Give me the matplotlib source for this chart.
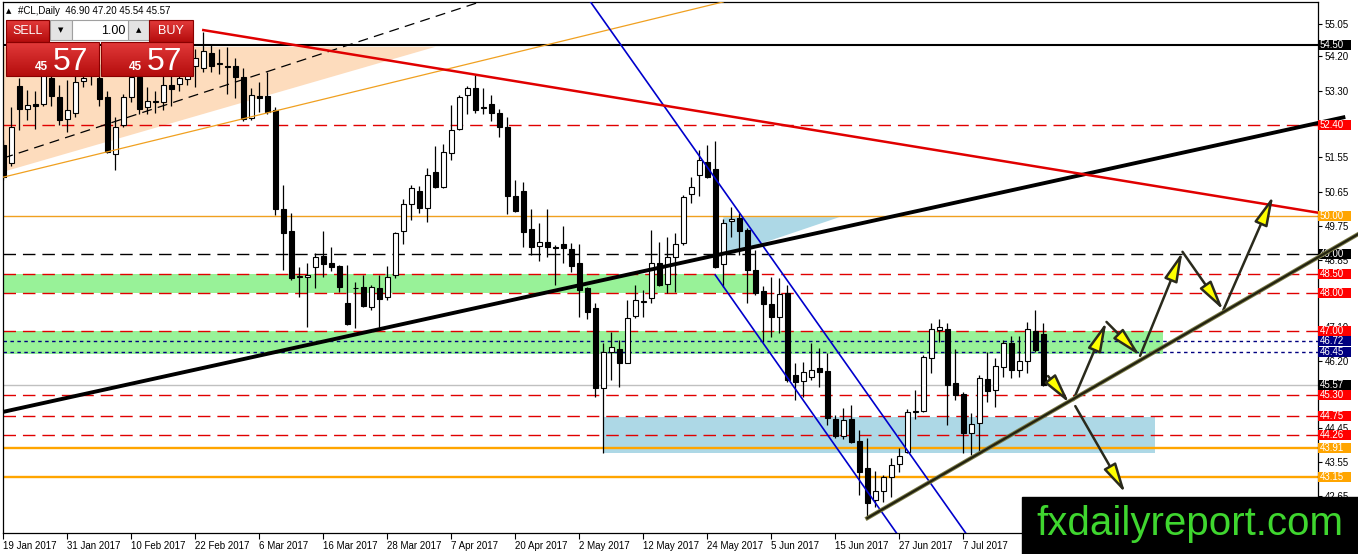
import matplotlib
matplotlib.use('Agg')
import matplotlib.pyplot as plt
from matplotlib.patches import Rectangle, FancyArrowPatch
from matplotlib.colors import LinearSegmentedColormap
import numpy as np

plt.rcParams['font.family'] = ['Liberation Sans', 'DejaVu Sans']

# daily candles, 19 Jan 2017 .. 21 Jul 2017
opens = [51.87, 51.40, 53.42, 52.82, 52.95, 52.95, 53.63, 53.13, 52.56, 52.72,
         53.55, 53.70, 53.63, 53.13, 51.64, 52.40, 53.13, 53.66, 52.87, 53.00,
         53.00, 53.45, 53.48, 53.60, 53.95, 53.90, 54.30, 54.00, 53.95, 53.95,
         53.66, 52.58, 53.15, 53.16, 52.79, 50.20, 49.62, 48.40, 48.40, 48.67,
         48.96, 48.78, 48.70, 47.73, 48.12, 48.15, 47.62, 48.12, 47.88, 48.46,
         49.62, 50.33, 50.67, 50.22, 51.17, 50.77, 51.66, 52.30, 53.18, 53.37,
         52.84, 52.95, 52.71, 52.35, 50.54, 50.67, 49.67, 49.23, 49.33, 49.20,
         49.28, 49.15, 48.78, 48.12, 47.60, 45.50, 46.44, 46.52, 46.15, 47.39,
         47.76, 47.86, 48.78, 48.23, 48.93, 49.30, 50.59, 51.09, 51.43, 51.25,
         48.75, 49.88, 49.96, 49.64, 48.59, 48.04, 47.70, 47.36, 47.99, 45.84,
         45.68, 45.79, 46.02, 45.94, 44.68, 44.24, 44.68, 44.10, 43.39, 42.56,
         42.80, 43.16, 43.50, 43.82, 44.87, 44.90, 46.28, 47.02, 47.04, 45.63,
         45.34, 44.31, 44.58, 45.73, 45.44, 46.05, 46.68, 45.97, 46.20, 47.00,
         46.90]
highs = [52.00, 52.87, 53.63, 53.32, 53.30, 54.10, 53.90, 53.45, 53.58, 53.70,
         54.00, 54.20, 54.00, 53.30, 52.60, 53.20, 53.90, 54.00, 53.40, 53.30,
         53.70, 53.70, 53.80, 54.10, 54.40, 54.85, 54.50, 54.40, 54.45, 54.15,
         53.90, 53.37, 53.53, 53.79, 52.87, 50.82, 50.09, 48.67, 48.78, 49.04,
         49.62, 49.20, 48.73, 48.73, 48.28, 48.46, 48.20, 48.46, 48.70, 49.60,
         50.46, 50.82, 50.80, 51.27, 51.85, 51.90, 52.92, 53.18, 53.42, 53.71,
         53.37, 53.19, 52.82, 52.61, 50.96, 50.90, 50.20, 49.83, 50.20, 49.25,
         49.75, 49.30, 49.28, 48.15, 47.73, 46.68, 46.97, 46.76, 47.81, 48.20,
         48.07, 49.64, 49.33, 49.46, 49.56, 50.56, 51.04, 51.74, 51.87, 51.98,
         49.93, 50.25, 50.09, 49.70, 49.12, 48.17, 48.41, 48.38, 48.20, 46.15,
         46.18, 46.68, 46.55, 46.41, 44.79, 44.97, 45.05, 44.39, 44.18, 43.32,
         43.21, 43.66, 43.92, 44.95, 45.44, 46.36, 47.20, 47.31, 47.20, 46.52,
         45.39, 44.84, 45.84, 46.44, 46.28, 46.76, 46.86, 46.86, 47.23, 47.54,
         47.20]
lows = [50.95, 51.32, 52.27, 52.53, 52.30, 52.90, 52.90, 52.40, 52.22, 52.60,
        53.40, 53.45, 52.90, 51.66, 51.22, 52.35, 53.00, 52.70, 52.70, 52.72,
        52.80, 52.90, 53.30, 53.45, 53.40, 53.80, 53.80, 53.75, 53.20, 53.10,
        52.50, 52.53, 52.74, 52.70, 50.04, 48.59, 48.33, 47.88, 47.10, 48.12,
        48.41, 48.56, 48.02, 47.15, 47.07, 47.62, 47.54, 47.02, 47.80, 48.38,
        49.28, 49.91, 50.09, 49.85, 50.74, 50.74, 51.48, 52.27, 52.69, 52.71,
        52.69, 52.50, 52.08, 50.06, 50.12, 49.20, 48.99, 48.83, 48.93, 48.20,
        48.78, 48.54, 47.36, 47.31, 45.26, 43.78, 45.71, 45.52, 46.15, 47.33,
        47.36, 47.73, 48.17, 47.99, 48.02, 49.25, 50.35, 50.54, 51.01, 48.65,
        48.15, 49.46, 48.99, 47.73, 47.94, 46.70, 46.84, 46.94, 45.65, 45.18,
        45.26, 45.71, 45.52, 44.53, 44.19, 44.16, 44.05, 42.69, 42.08, 42.37,
        42.51, 42.64, 43.29, 43.79, 44.68, 44.87, 45.89, 46.71, 44.53, 45.18,
        43.79, 43.74, 43.82, 45.13, 44.99, 45.79, 45.76, 45.79, 45.89, 46.44,
        45.54]
closes = [51.03, 52.35, 52.82, 52.92, 52.90, 53.84, 53.16, 52.53, 52.79, 53.53,
          53.63, 53.85, 53.08, 51.70, 52.35, 53.13, 53.66, 52.82, 53.03, 53.02,
          53.45, 53.35, 53.63, 53.80, 54.15, 54.35, 53.95, 54.02, 53.93, 53.67,
          52.56, 53.18, 53.12, 52.74, 50.20, 49.57, 48.38, 48.43, 48.46, 48.93,
          48.75, 48.67, 48.15, 47.18, 48.12, 47.64, 48.15, 47.83, 48.41, 49.57,
          50.33, 50.74, 50.22, 51.09, 50.77, 51.69, 52.27, 53.13, 53.37, 52.79,
          52.87, 52.71, 52.35, 50.54, 50.14, 49.59, 49.20, 49.33, 49.20, 49.18,
          49.17, 48.70, 48.07, 47.49, 45.50, 46.44, 46.57, 46.15, 47.33, 47.81,
          47.78, 48.78, 48.20, 48.93, 49.28, 50.51, 50.77, 51.48, 51.04, 48.67,
          49.83, 49.93, 49.62, 48.59, 47.99, 47.70, 47.36, 47.96, 45.71, 45.65,
          45.92, 45.97, 45.92, 44.71, 44.24, 44.66, 44.08, 43.29, 42.48, 42.80,
          43.16, 43.47, 43.71, 44.87, 44.87, 46.31, 47.04, 47.09, 45.58, 45.31,
          44.31, 44.55, 45.76, 45.42, 46.07, 46.68, 45.97, 46.20, 47.04, 46.49,
          45.57]

date_labels = ['19 Jan 2017', '31 Jan 2017', '10 Feb 2017', '22 Feb 2017',
               '6 Mar 2017', '16 Mar 2017', '28 Mar 2017', '7 Apr 2017',
               '20 Apr 2017', '2 May 2017', '12 May 2017', '24 May 2017',
               '5 Jun 2017', '15 Jun 2017', '27 Jun 2017', '7 Jul 2017']
price_ticks = [55.05, 54.20, 53.30, 52.40, 51.55, 50.65, 49.75, 48.85,
               47.95, 47.10, 46.20, 45.30, 44.45, 43.55, 42.65]
# tick labels fully covered by level markers on the scale
hidden_ticks = [52.40, 47.95, 45.30]

# horizontal levels with their marker colours on the price scale
levels = [54.50, 52.40, 50.00, 49.00, 48.50, 48.00, 47.00, 46.72, 46.45,
          45.57, 45.30, 44.75, 44.26, 43.91, 43.15]
level_colors = ['#000000', '#ff0000', '#ffa500', '#000000', '#ff0000',
                '#ff0000', '#ff0000', '#000080', '#000080', '#000000',
                '#ff0000', '#ff0000', '#ff0000', '#ffa500', '#ffa500']

# zones: (bar from, bar to, price low, price high)
green_zones = [(-0.1, 94, 48.00, 48.50), (-0.1, 145, 46.40, 47.00)]
blue_zone = (75, 144, 43.78, 44.74)
peach_triangle = [(0, 54.45), (54, 54.45), (0, 51.17)]
blue_triangle = [(90, 49.98), (104.5, 49.98), (90, 48.95)]

# trend lines: (bar, price) end points
thick_black = [(0, 44.87), (167.75, 52.61)]
red_line = [(25, 54.89), (167.75, 49.98)]
blue_upper = [(73.4, 55.63), (120.4, 41.66)]
blue_lower = [(89, 48.46), (111.75, 41.66)]
black_dashed = [(0, 51.53), (59.6, 55.63)]
orange_thin = [(0, 51.03), (90, 55.63)]
olive_line = [(108, 42.08), (169.4, 49.54)]

# projected path arrows
wave_arrows = [((130.6, 45.81), (133.25, 45.10)),
               ((134.0, 45.02), (140.25, 42.74)),
               ((133.75, 45.18), (137.9, 47.23)),
               ((137.9, 47.23), (142.1, 46.34)),
               ((142.1, 46.34), (147.4, 49.07)),
               ((147.4, 49.07), (152.5, 47.54)),
               ((152.5, 47.54), (158.75, 50.54))]

W, H = 1358, 554
fig = plt.figure(figsize=(W / 100, H / 100), dpi=100)
ax = fig.add_axes([2.5 / W, (H - 533) / H, (1318 - 2.5) / W, (533 - 2) / H])
xmax = -0.1 + (1318 - 2.5) / 8
ax.set_xlim(-0.1, xmax)
ax.set_ylim(41.69, 55.627)

o = np.array(opens); h = np.array(highs); l = np.array(lows); c = np.array(closes)
x = np.arange(len(o))

# background objects
ax.fill([p[0] for p in peach_triangle], [p[1] for p in peach_triangle],
        color='#fddcbd', lw=0, zorder=1)
for x0, x1, lo, hi in green_zones:
    ax.fill_between([x0, x1], lo, hi, color='#98f298', lw=0, zorder=1)
ax.fill_between([blue_zone[0], blue_zone[1]], blue_zone[2], blue_zone[3],
                color='#add8e6', lw=0, zorder=1)
ax.fill([p[0] for p in blue_triangle], [p[1] for p in blue_triangle],
        color='#add8e6', lw=0, zorder=1)

red_dash = dict(color='#e00000', lw=1.0, dashes=(9, 5))
styles = {54.50: dict(color='black', lw=1.5),
          50.00: dict(color='#f0a020', lw=1.0),
          49.00: dict(color='black', lw=1.0, dashes=(9, 5)),
          46.72: dict(color='#000080', lw=1.0, dashes=(2.5, 2.5)),
          46.45: dict(color='#000080', lw=1.0, dashes=(2.5, 2.5)),
          45.57: dict(color='#c0c0c0', lw=1.0),
          43.91: dict(color='#ffa500', lw=1.7),
          43.15: dict(color='#ffa500', lw=1.7)}
for p in levels:
    ax.axhline(p, zorder=2, **styles.get(p, red_dash))

# candles
ax.vlines(x, l, h, color='black', lw=0.9, zorder=3)
body_lo = np.minimum(o, c)
body_h = np.maximum(np.abs(c - o), 0.012)
ax.bar(x, body_h, bottom=body_lo, width=0.6,
       color=np.where(c >= o, 'white', 'black'), edgecolor='black', lw=0.8, zorder=3.5)

def seg(pts, **kw):
    ax.plot([pts[0][0], pts[1][0]], [pts[0][1], pts[1][1]], **kw)

seg(black_dashed, color='black', lw=0.9, dashes=(8, 5), zorder=4)
seg(orange_thin, color='#f0a020', lw=0.9, zorder=4)
seg(blue_upper, color='#0000cc', lw=1.2, zorder=4)
seg(blue_lower, color='#0000cc', lw=1.2, zorder=4)
seg(thick_black, color='black', lw=2.8, zorder=4, clip_on=False, solid_capstyle='butt')
seg(red_line, color='#e00000', lw=1.8, zorder=4, clip_on=False)
seg(olive_line, color='#7a7a45', lw=3.0, zorder=7, clip_on=False)
seg(olive_line, color='#222211', lw=1.6, zorder=7.1, clip_on=False)

for a, b in wave_arrows:
    ax.add_patch(FancyArrowPatch(a, b, arrowstyle='-|>,head_length=1.8,head_width=0.42',
                                 mutation_scale=10, shrinkA=0, shrinkB=0,
                                 facecolor='#ffff00', edgecolor='#2a2a1c', lw=1.8, zorder=6))

# axes styling
for s in ax.spines.values():
    s.set_linewidth(0.9)
ax.yaxis.tick_right()
ax.set_yticks(price_ticks)
ax.set_yticklabels(['' if t in hidden_ticks else f'{t:.2f}' for t in price_ticks])
ax.tick_params(axis='y', length=3, width=0.8, pad=2, labelsize=7)
ax.set_xticks(np.arange(0, 8 * len(date_labels), 8))
ax.set_xticklabels(date_labels)
ax.tick_params(axis='x', length=4, width=0.8, pad=2, labelsize=7)
plt.setp(ax.get_xticklabels(), ha='left')

# level markers on price scale
bh = 10 / 38.1
for p, col in zip(levels, level_colors):
    ax.add_patch(Rectangle((xmax, p - bh / 2), 4.1, bh, facecolor=col, lw=0,
                           clip_on=False, zorder=5))
    ax.text(xmax + 0.25, p, f'{p:.2f}', color='white', fontsize=7, va='center',
            ha='left', clip_on=False, zorder=5.5)

# overlay in pixel space: title, trade panel, watermark
ov = fig.add_axes([0, 0, 1, 1])
ov.set_xlim(0, W)
ov.set_ylim(H, 0)
ov.axis('off')

ov.text(9, 11, '▲', family='DejaVu Sans', fontsize=5, ha='center', va='center')
ov.text(18, 11, '#CL,Daily  46.90 47.20 45.54 45.57', fontsize=7, va='center')

grad = np.linspace(0, 1, 64).reshape(-1, 1)
reds = LinearSegmentedColormap.from_list('r', ['#e23a3a', '#b50d0d'])
for x0, x1, y0, y1 in [(6, 49, 20, 42), (149, 193, 20, 42), (6, 99, 42, 76), (101, 193, 42, 76)]:
    ov.imshow(grad, cmap=reds, extent=(x0, x1, y1, y0), aspect='auto', zorder=2)
    ov.add_patch(Rectangle((x0, y0), x1 - x0, y1 - y0, fill=False, edgecolor='#8a0000', lw=0.8, zorder=3))
for x0, x1 in [(50, 72), (128, 149)]:
    ov.add_patch(Rectangle((x0, 20), x1 - x0, 20, facecolor='#e4e4e4', edgecolor='#a0a0a0', lw=0.8, zorder=2))
ov.add_patch(Rectangle((72, 20), 56, 20, facecolor='white', edgecolor='#a0a0a0', lw=0.8, zorder=2))
ov.text(61, 30, '▼', family='DejaVu Sans', fontsize=5, ha='center', va='center', zorder=4)
ov.text(138.5, 30, '▲', family='DejaVu Sans', fontsize=5, ha='center', va='center', zorder=4)
ov.text(125, 30.5, '1.00', fontsize=9, ha='right', va='center', zorder=4)
ov.text(27.5, 31, 'SELL', fontsize=9, color='white', ha='center', va='center', zorder=4)
ov.text(171, 31, 'BUY', fontsize=9, color='white', ha='center', va='center', zorder=4)
for xs, xb in [(35, 53), (129, 147)]:
    ov.text(xs, 70, '45', fontsize=8.5, fontweight='bold', color='white', va='baseline', zorder=4)
    ov.text(xb, 70, '57', fontsize=23, color='white', va='baseline', zorder=4)

ov.add_patch(Rectangle((1022, 497), W - 1022, H - 497, color='black', zorder=2))
ov.text(1190, 524, 'fxdailyreport.com', fontsize=29, color='#3fd62f',
        ha='center', va='center', zorder=3)

fig.savefig('out.png', dpi=100)
